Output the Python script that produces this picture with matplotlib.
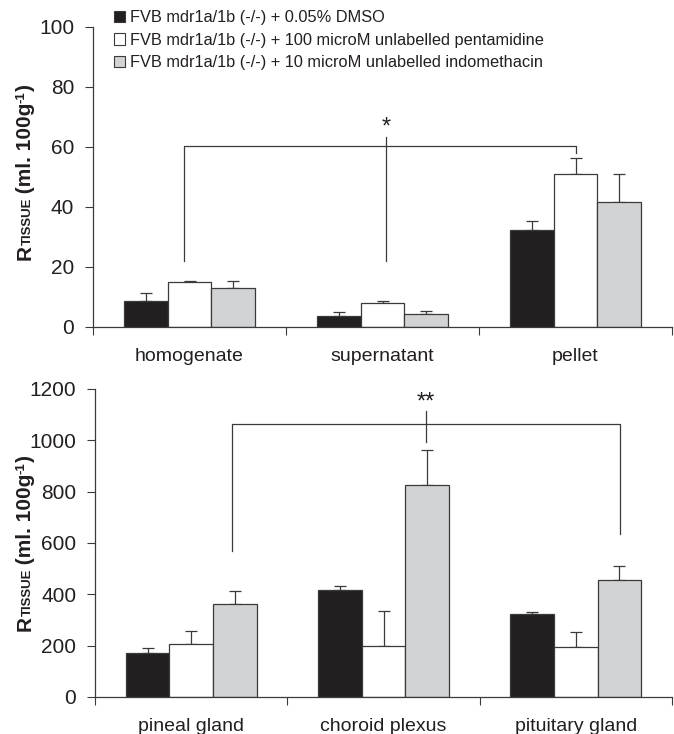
import numpy as np
import matplotlib
matplotlib.use("Agg")
import matplotlib.pyplot as plt
from matplotlib.patches import Patch

plt.rcParams["font.family"] = ["Liberation Sans", "DejaVu Sans"]

INK = "#231F20"
BLACK = "#231F20"
WHITE = "#FFFFFF"
GREY = "#D1D3D4"

SERIES = ["FVB mdr1a/1b (-/-) + 0.05% DMSO",
          "FVB mdr1a/1b (-/-) + 100 microM unlabelled pentamidine",
          "FVB mdr1a/1b (-/-) + 10 microM unlabelled indomethacin"]

# top panel: fractions
frac_cats = ["homogenate", "supernatant", "pellet"]
frac_dmso = [8.8, 3.8, 32.3]
frac_dmso_err = [2.4, 1.2, 3.0]
frac_pent = [15.0, 8.0, 51.0]
frac_pent_err = [0.2, 0.7, 5.3]
frac_indo = [13.0, 4.5, 41.7]
frac_indo_err = [2.5, 0.8, 9.3]

# bottom panel: CVOs
cvo_cats = ["pineal gland", "choroid plexus", "pituitary gland"]
cvo_dmso = [173, 417, 323]
cvo_dmso_err = [16, 15, 9]
cvo_pent = [208, 198, 194]
cvo_pent_err = [50, 139, 60]
cvo_indo = [361, 825, 457]
cvo_indo_err = [51, 138, 55]

W = 0.227


def bars(ax, cats, series, errs):
    x = np.arange(len(cats))
    for k, (vals, err, col) in enumerate(zip(series, errs, [BLACK, WHITE, GREY])):
        xs = x + (k - 1) * W
        ax.bar(xs, vals, W, color=col, edgecolor="#3a3a3a", lw=0.9, zorder=2)
        ax.errorbar(xs, vals, yerr=[np.zeros(len(vals)), err], fmt="none",
                    ecolor="#3a3a3a", elinewidth=0.9, capsize=4, capthick=0.9, zorder=1)
    ax.set_xlim(-0.5, len(cats) - 0.5)
    ax.set_xticks(np.arange(len(cats) + 1) - 0.5)
    ax.set_xticklabels([])
    ax.set_xticks(x, minor=True)
    ax.set_xticklabels(cats, minor=True, fontsize=14, color=INK)
    ax.tick_params(axis="x", which="minor", length=0, pad=15)
    ax.tick_params(axis="x", which="major", length=6, direction="out", color="#3a3a3a")
    ax.tick_params(axis="y", length=6, direction="out", color="#3a3a3a",
                   labelsize=15, labelcolor=INK, pad=7.5)
    for s in ["top", "right"]:
        ax.spines[s].set_visible(False)
    for s in ["left", "bottom"]:
        ax.spines[s].set_color("#3a3a3a")
        ax.spines[s].set_linewidth(0.9)


def ylabel(fig, xfig_px, y_center_px):
    # R + small-caps TISSUE + (ml. 100g^-1), drawn piece by piece, bottom to top
    parts = [("R", 15, 0), ("TISSUE", 9.5, 0), (" (ml. 100g", 15, 0),
             ("-1", 9.5, -6), (")", 15, 0)]
    fig.canvas.draw()
    r = fig.canvas.get_renderer()
    lens = []
    for txt, fs, _ in parts:
        t = fig.text(0, 0, txt, fontsize=fs, fontweight="bold", rotation=90)
        lens.append(t.get_window_extent(r).height)
        t.remove()
    lens[1] -= 2
    H = fig.bbox.height
    y = y_center_px + sum(lens) / 2  # pixels from top
    for (txt, fs, dx), ln in zip(parts, lens):
        fig.text((xfig_px + dx) / fig.bbox.width, 1 - y / H, txt, fontsize=fs,
                 fontweight="bold", rotation=90, rotation_mode="anchor",
                 ha="left", va="baseline", color=INK)
        y -= ln


fig = plt.figure(figsize=(6.74, 7.34), dpi=100)
fig.patch.set_facecolor("white")

ax1 = fig.add_axes([93 / 674, 1 - 327 / 734, 579 / 674, 300 / 734])
bars(ax1, frac_cats, [frac_dmso, frac_pent, frac_indo],
     [frac_dmso_err, frac_pent_err, frac_indo_err])
ax1.set_ylim(0, 100)
ax1.set_yticks(range(0, 101, 20))

# significance bracket (top)
lc = dict(color="#3a3a3a", lw=0.9)
ax1.plot([-0.03, -0.03, 2.0, 2.0], [22, 60.5, 60.5, 58], **lc)
ax1.plot([1.02, 1.02], [22, 63.5], **lc)
ax1.text(1.02, 62.8, "*", ha="center", va="bottom", fontsize=17, color=INK)

ax2 = fig.add_axes([95 / 674, 1 - 697 / 734, 577 / 674, 308 / 734])
bars(ax2, cvo_cats, [cvo_dmso, cvo_pent, cvo_indo],
     [cvo_dmso_err, cvo_pent_err, cvo_indo_err])
ax2.set_ylim(0, 1200)
ax2.set_yticks(range(0, 1201, 200))

ax2.plot([0.21, 0.21, 2.23, 2.23], [567, 1062, 1062, 636], **lc)
ax2.plot([1.22, 1.22], [992, 1114], **lc)
ax2.text(1.22, 1105, "**", ha="center", va="bottom", fontsize=17, color=INK)

handles = [Patch(facecolor=c, edgecolor="#3a3a3a", lw=0.8) for c in [BLACK, WHITE, GREY]]
fig.legend(handles, SERIES, loc="upper left", bbox_to_anchor=(114 / 674, 1 - 10 / 734),
           frameon=False, fontsize=11.8, handlelength=0.7, handleheight=0.7,
           handletextpad=0.3, labelspacing=0.47, borderpad=0, borderaxespad=0,
           labelcolor=INK)

ylabel(fig, 31, 172)
ylabel(fig, 31, 543)

fig.savefig("out.png", dpi=100, facecolor="white")
